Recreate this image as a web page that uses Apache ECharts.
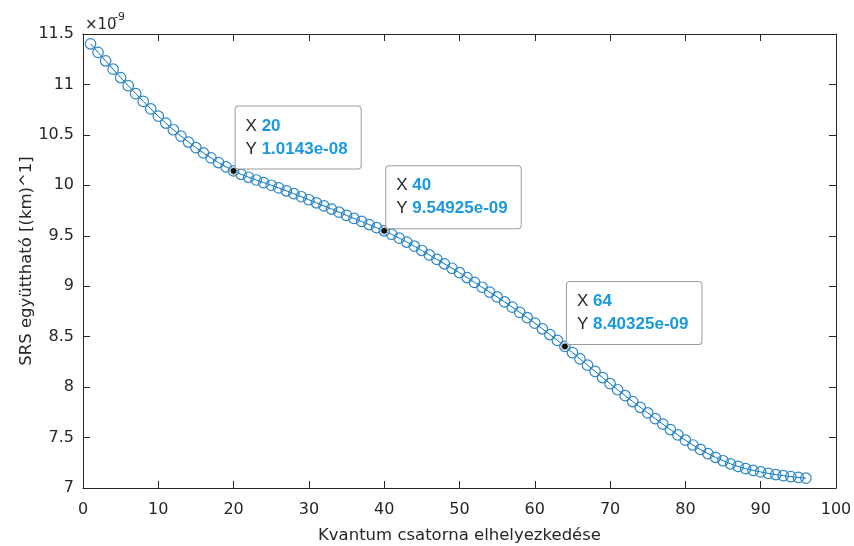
<!DOCTYPE html>
<html>
<head>
<meta charset="utf-8">
<script src="https://cdn.jsdelivr.net/npm/echarts@6/dist/echarts.min.js"></script>
<style>
html,body{margin:0;padding:0;background:#fff;}
#chart{width:854px;height:546px;}
</style>
</head>
<body>
<div id="chart"></div>
<script>
// Channel position (x) and SRS coefficient in units of 1e-9 (km)^-1
const channel = [1,2,3,4,5,6,7,8,9,10,11,12,13,14,15,16,17,18,19,20,
  21,22,23,24,25,26,27,28,29,30,31,32,33,34,35,36,37,38,39,40,
  41,42,43,44,45,46,47,48,49,50,51,52,53,54,55,56,57,58,59,60,
  61,62,63,64,65,66,67,68,69,70,71,72,73,74,75,76,77,78,79,80,
  81,82,83,84,85,86,87,88,89,90,91,92,93,94,95,96];
const srsCoeff = [11.403,11.318,11.234,11.151,11.068,10.988,10.909,10.832,10.757,10.685,
  10.617,10.551,10.488,10.429,10.373,10.321,10.272,10.226,10.183,10.143,
  10.109,10.080,10.053,10.027,10.001,9.974,9.946,9.917,9.887,9.857,
  9.827,9.796,9.765,9.734,9.702,9.672,9.642,9.611,9.580,9.54925,
  9.514,9.477,9.438,9.397,9.354,9.310,9.266,9.222,9.178,9.134,
  9.086,9.038,8.990,8.942,8.894,8.844,8.793,8.741,8.688,8.634,
  8.578,8.521,8.463,8.40325,8.342,8.280,8.218,8.156,8.095,8.034,
  7.974,7.915,7.857,7.800,7.744,7.688,7.633,7.579,7.526,7.474,
  7.426,7.382,7.341,7.304,7.270,7.240,7.214,7.192,7.174,7.159,
  7.145,7.133,7.122,7.113,7.105,7.097];
// Data tips
const tipChannels = [20, 40, 64];
const tipValues = [10.143, 9.54925, 8.40325];
const tipXText = ['20', '40', '64'];
const tipYText = ['1.0143e-08', '9.54925e-09', '8.40325e-09'];

const xTitle = 'Kvantum csatorna elhelyezkedése';
const yTitle = 'SRS együttható [(km)^1]';
const exponentBase = '×10';
const exponentPow = '-9';

const TXT = '#262626';
const AX = '#262626';
const BLUE = '#0072BD';
const axFont = 'DejaVu Sans';

const chart = echarts.init(document.getElementById('chart'), null, {renderer: 'canvas'});

function xAxisCfg(pos, labels) {
  return {
    type: 'value', min: 0, max: 100, interval: 10, position: pos,
    axisLine: {show: true, onZero: false, lineStyle: {color: AX, width: 1}},
    axisTick: {show: true, inside: true, length: 7, lineStyle: {color: AX, width: 1}},
    axisLabel: {show: labels, color: TXT, fontSize: 16, fontFamily: axFont, margin: 14},
    splitLine: {show: false}
  };
}
function yAxisCfg(pos, labels) {
  return {
    type: 'value', min: 7, max: 11.5, interval: 0.5, position: pos,
    axisLine: {show: true, onZero: false, lineStyle: {color: AX, width: 1}},
    axisTick: {show: true, inside: true, length: 7, lineStyle: {color: AX, width: 1}},
    axisLabel: {show: labels, color: TXT, fontSize: 16, fontFamily: axFont, margin: 9},
    splitLine: {show: false}
  };
}

const xBottom = xAxisCfg('bottom', true);
xBottom.name = xTitle;
xBottom.nameLocation = 'middle';
xBottom.nameGap = 39;
xBottom.nameMoveOverlap = false;
xBottom.nameTextStyle = {color: TXT, fontSize: 16.5, fontFamily: axFont};
const yLeft = yAxisCfg('left', true);
yLeft.name = yTitle;
yLeft.nameLocation = 'middle';
yLeft.nameGap = 48;
yLeft.nameMoveOverlap = false;
yLeft.nameTextStyle = {color: TXT, fontSize: 16.5, fontFamily: axFont};

const option = {
  animation: false,
  backgroundColor: '#fff',
  grid: {left: 83, right: 18, top: 34, bottom: 58, containLabel: false, outerBoundsMode: 'none'},
  xAxis: [xBottom, xAxisCfg('top', false)],
  yAxis: [yLeft, yAxisCfg('right', false)],
  graphic: [
    {type: 'text', left: 85, top: 18, style: {text: exponentBase, font: '15px "DejaVu Sans"', fill: TXT}},
    {type: 'text', left: 114, top: 12, style: {text: exponentPow, font: '11px "DejaVu Sans"', fill: TXT}}
  ],
  series: [{
    type: 'line',
    data: channel.map((x, i) => [x, srsCoeff[i]]),
    symbol: 'circle',
    symbolSize: 10.5,
    showAllSymbol: true,
    lineStyle: {color: BLUE, width: 1},
    itemStyle: {color: 'rgba(0,0,0,0)', borderColor: '#2a86c6', borderWidth: 1.2},
    emphasis: {disabled: true},
    markPoint: {
      symbol: 'circle',
      symbolSize: 7,
      itemStyle: {color: '#111', borderColor: '#d8d8d8', borderWidth: 1},
      label: {
        show: true,
        position: [6, 1.5],
        align: 'left',
        verticalAlign: 'bottom',
        backgroundColor: '#ffffff',
        borderColor: '#9c9c9c',
        borderWidth: 1,
        borderRadius: 3,
        padding: [8, 13, 8, 10],
        rich: {
          k: {fontFamily: 'Liberation Sans', fontSize: 17, color: TXT, lineHeight: 23},
          v: {fontFamily: 'Liberation Sans', fontSize: 17, fontWeight: 'bold', color: '#1a98e0', lineHeight: 23}
        }
      },
      data: tipChannels.map((x, i) => ({
        coord: [x, tipValues[i]],
        label: {formatter: '{k|X }{v|' + tipXText[i] + '}\n{k|Y }{v|' + tipYText[i] + '}'}
      }))
    }
  }]
};
chart.setOption(option);
</script>
</body>
</html>
